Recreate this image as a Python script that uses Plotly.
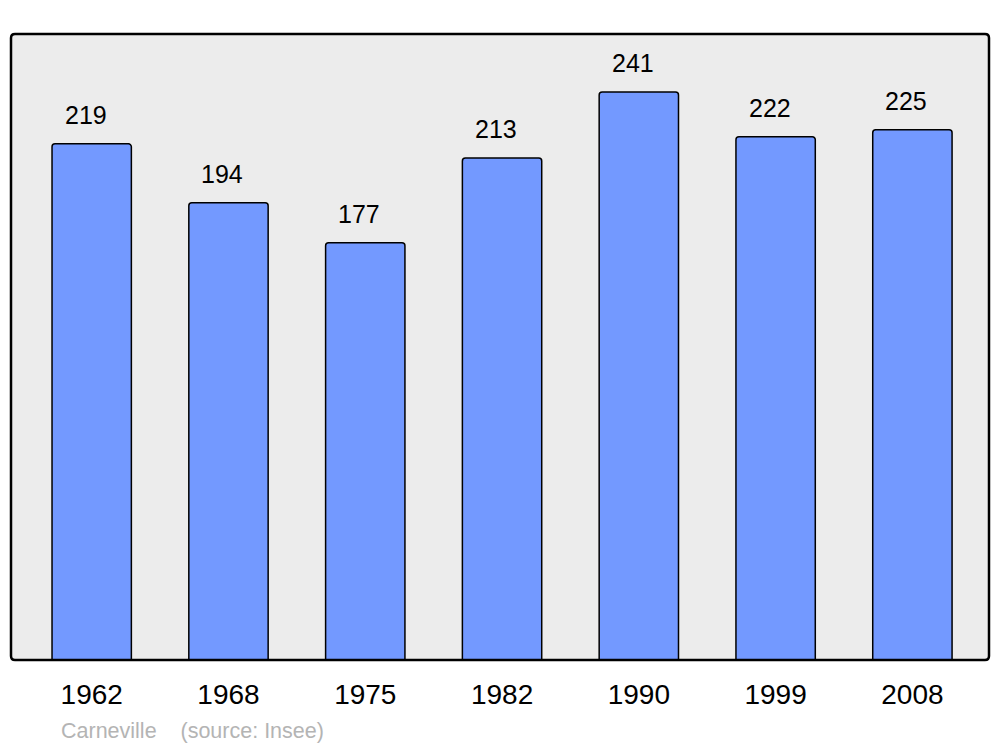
import plotly.graph_objects as go

years = ['1962', '1968', '1975', '1982', '1990', '1999', '2008']
population = [219, 194, 177, 213, 241, 222, 225]
town = 'Carneville'
source = '(source: Insee)'

font_family = 'Liberation Sans, Arial, sans-serif'

fig = go.Figure(
    data=[go.Bar(
        x=years,
        y=population,
        width=0.58,
        marker=dict(color='#7399ff', line=dict(color='black', width=1.5), cornerradius=3),
        hoverinfo='x+y',
    )]
)

# value labels above the bars
for i, val in enumerate(population):
    fig.add_annotation(
        x=i, y=val, text=str(val),
        showarrow=False, yanchor='bottom',
        xshift=-6, yshift=13,
        font=dict(family=font_family, size=25, color='black'),
    )

fig.add_annotation(
    xref='paper', yref='paper', x=0.049, y=-0.114,
    xanchor='left', yanchor='middle', showarrow=False,
    text=town + '\u00a0\u00a0\u00a0\u00a0' + source,
    font=dict(family=font_family, size=21.5, color='#b4b4b4'),
)

# frame with slightly rounded corners (radius in paper units)
rx, ry = 4 / 978, 4 / 626
frame = (f'M {rx},0 L {1 - rx},0 Q 1,0 1,{ry} L 1,{1 - ry} Q 1,1 {1 - rx},1 '
         f'L {rx},1 Q 0,1 0,{1 - ry} L 0,{ry} Q 0,0 {rx},0 Z')
fig.add_shape(type='path', xref='paper', yref='paper', path=frame,
              line=dict(color='black', width=2.5), layer='above')

fig.update_xaxes(
    type='category', range=[-0.59, 6.56], showgrid=False, zeroline=False,
    ticks='', ticklabelstandoff=15,
    tickfont=dict(family=font_family, size=28, color='black'),
)
fig.update_yaxes(range=[0, 265.6], showgrid=False, zeroline=False, showticklabels=False)

# page has an 8px body margin, so the figure is sized/offset to compensate
fig.update_layout(
    width=992, height=739,
    margin=dict(l=3, r=11, t=26, b=87),
    plot_bgcolor='#ececec',
    paper_bgcolor='white',
    showlegend=False,
)

fig.write_html('out.html')
